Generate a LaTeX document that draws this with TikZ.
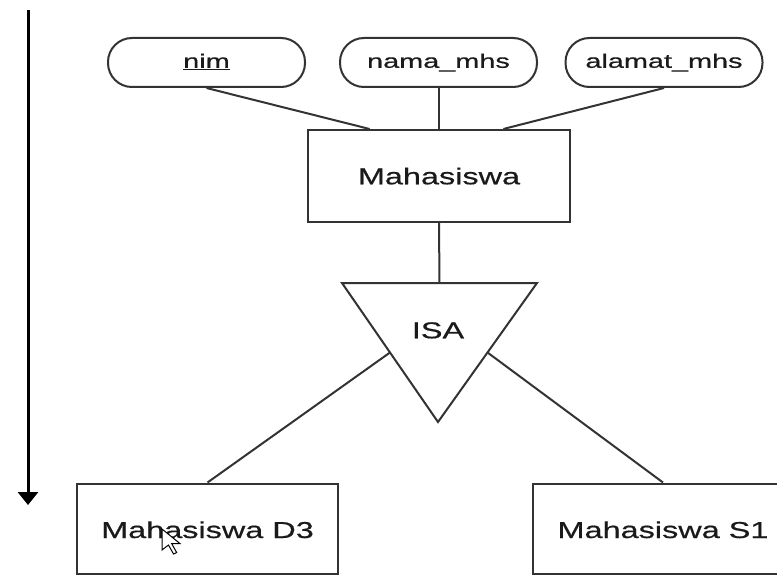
\documentclass[tikz,border=0pt]{standalone}
\usepackage{fontspec}
\setmainfont{Liberation Sans}
\newfontfamily\attrfont[FakeStretch=1.48,FakeBold=0.6]{Liberation Sans}
\newfontfamily\boxfont[FakeStretch=1.41,FakeBold=0.6]{Liberation Sans}
\usetikzlibrary{calc,arrows.meta}
\definecolor{ink}{HTML}{333333}
\definecolor{txt}{HTML}{1A1A1A}
\begin{document}
\begin{tikzpicture}[x=1pt,y=-1pt,
  edge/.style={draw=ink,line width=2pt},
  attr/.style={draw=ink,line width=2pt,rounded corners=24pt,
    minimum width=197pt,minimum height=49pt,inner sep=0pt,text=txt,
    font=\attrfont\fontsize{19.5}{23}\selectfont,text height=10.6pt,text depth=0pt},
  entity/.style={draw=ink,line width=2pt,minimum width=262pt,minimum height=92pt,
    inner sep=0pt,text=txt,font=\boxfont\fontsize{23}{28}\selectfont,
    text height=16.6pt,text depth=0pt},
  subentity/.style={entity,minimum width=261pt,minimum height=90pt,text height=19pt},
  label/.style={inner sep=0pt,text=txt,font=\boxfont\fontsize{23}{28}\selectfont,
    text height=16.6pt,text depth=0pt}
]
\useasboundingbox (0,0) rectangle (777,575);

% flow arrow on the left
\coordinate (flowtop) at (28,10);
\coordinate (flowend) at (28,505);
\draw[line width=3pt,-{Triangle[width=20pt,length=13pt]}] (flowtop) -- (flowend);

% attributes
\node[attr] (nim) at (206.5,62.5) {\underline{nim}};
\node[attr] (nama) at (438.5,62.5) {nama\_mhs};
\node[attr] (alamat) at (664,62.5) {alamat\_mhs};

% entity
\node[entity] (mhs) at (439,176) {Mahasiswa};

% ISA triangle
\coordinate (isaL) at (342,283);
\coordinate (isaR) at (537,283);
\coordinate (isaB) at (438,422);
\draw[edge,line join=miter] (isaL) -- (isaR) -- (isaB) -- cycle;
\node[label] (isa) at (438,330) {ISA};

% subclasses
\node[subentity] (d3) at (207.5,528.5) {Mahasiswa D3};
\node[subentity,minimum width=260pt] (s1) at (663,528.5) {Mahasiswa S1};

% connectors
\draw[edge] (nim.south) -- ($(mhs.north west)!0.237!(mhs.north east)$);
\draw[edge] (nama.south) -- (nama.south |- mhs.north);
\draw[edge] (alamat.south) -- ($(mhs.north west)!0.744!(mhs.north east)$);
\draw[edge] (mhs.south) -- ($(isaL)!0.5!(isaR)$);
\draw[edge] ($(isaL)!0.5!(isaB)$) -- (d3.north);
\draw[edge] ($(isaR)!0.5!(isaB)$) -- (s1.north);

% mouse pointer
\draw[fill=white,draw=black,line width=1pt,line join=miter]
  (162,529) -- ++(0,21) -- ++(6.5,-5) -- ++(5,9) -- ++(3.2,-1.4)
  -- ++(-5,-9) -- ++(8.3,0) -- cycle;
\end{tikzpicture}
\end{document}
